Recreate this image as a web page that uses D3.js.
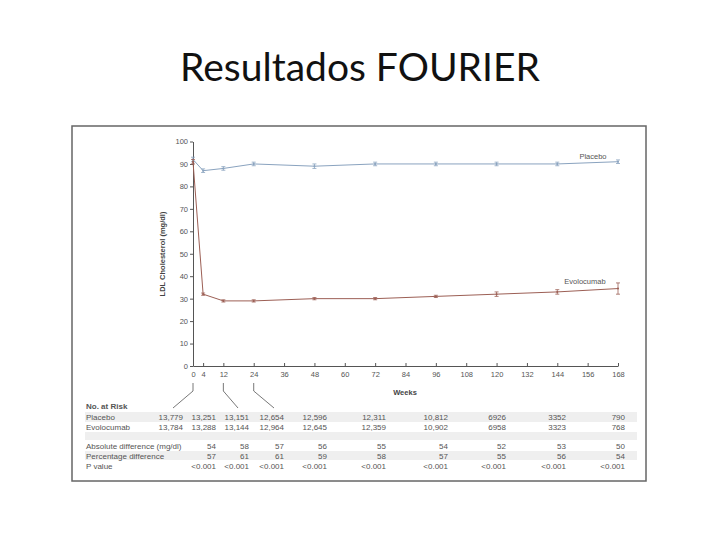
<!DOCTYPE html>
<html><head><meta charset="utf-8">
<script src="https://cdn.jsdelivr.net/npm/d3@7"></script>
<style>body{margin:0;background:#fff}</style>
</head><body>
<svg id="c" width="720" height="540"></svg>
<script>
const weeks = [0,4,12,24,48,72,96,120,144,168];
const placebo = [92,87,88,90,89,90,90,90,90,91];
const placeboErr = [1,0.8,0.8,0.8,1,0.8,0.8,0.8,0.8,0.8];
const evolocumab = [91,32,29,29,30,30,31,32,33,34.5];
const evolocumabErr = [1,0.5,0.5,0.5,0.5,0.5,0.5,1,1,2.5];
const xTicks = [0,4,12,24,36,48,60,72,84,96,108,120,132,144,156,168];
const yTicks = [0,10,20,30,40,50,60,70,80,90,100];
const riskPlacebo = ["13,779","13,251","13,151","12,654","12,596","12,311","10,812","6926","3352","790"];
const riskEvolocumab = ["13,784","13,288","13,144","12,964","12,645","12,359","10,902","6958","3323","768"];
const absDiff = ["","54","58","57","56","55","54","52","53","50"];
const pctDiff = ["","57","61","61","59","58","57","55","56","54"];
const pValue = ["","<0.001","<0.001","<0.001","<0.001","<0.001","<0.001","<0.001","<0.001","<0.001"];

const svg = d3.select("#c");
const F = "'Liberation Sans', Arial, sans-serif";

svg.append("text").attr("x",360).attr("y",81).attr("text-anchor","middle")
  .attr("font-family","Lato, 'Open Sans', sans-serif").attr("font-size",39).attr("fill","#111")
  .text("Resultados FOURIER");

svg.append("rect").attr("x",72).attr("y",126).attr("width",574).attr("height",355)
  .attr("fill","none").attr("stroke","#666").attr("stroke-width",1.5);

const x = d3.scaleLinear().domain([0,168]).range([193,618]);
const y = d3.scaleLinear().domain([0,100]).range([366,141.5]);

const gx = svg.append("g").attr("transform","translate(0,366)")
  .call(d3.axisBottom(x).tickValues(xTicks).tickSize(-3).tickSizeOuter(0).tickPadding(6));
const gy = svg.append("g").attr("transform","translate(193,0)")
  .call(d3.axisLeft(y).tickValues(yTicks).tickSize(3).tickSizeOuter(0).tickPadding(2));
[gx,gy].forEach(g=>{
  g.select(".domain").attr("stroke","#555");
  g.selectAll(".tick line").attr("stroke","#555");
  g.selectAll("text").attr("font-family",F).attr("font-size",7.5).attr("fill","#555");
});

svg.append("text").attr("transform","translate(165,254) rotate(-90)").attr("text-anchor","middle")
  .attr("font-family",F).attr("font-size",7.5).attr("font-weight","bold").attr("fill","#444")
  .text("LDL Cholesterol (mg/dl)");
svg.append("text").attr("x",405).attr("y",395).attr("text-anchor","middle")
  .attr("font-family",F).attr("font-size",7.5).attr("font-weight","bold").attr("fill","#444")
  .text("Weeks");

function series(vals, errs, color){
  const pts = weeks.map((w,i)=>({w,v:vals[i],e:errs[i]}));
  const line = d3.line().x(d=>x(d.w)).y(d=>y(d.v));
  svg.append("path").datum(pts).attr("d",line).attr("fill","none")
    .attr("stroke",color).attr("stroke-width",1);
  const g = svg.append("g").attr("stroke",color).attr("stroke-width",0.8);
  pts.forEach(d=>{
    g.append("line").attr("x1",x(d.w)).attr("x2",x(d.w)).attr("y1",y(d.v+d.e)).attr("y2",y(d.v-d.e));
    g.append("line").attr("x1",x(d.w)-2).attr("x2",x(d.w)+2).attr("y1",y(d.v+d.e)).attr("y2",y(d.v+d.e));
    g.append("line").attr("x1",x(d.w)-2).attr("x2",x(d.w)+2).attr("y1",y(d.v-d.e)).attr("y2",y(d.v-d.e));
    g.append("circle").attr("cx",x(d.w)).attr("cy",y(d.v)).attr("r",1).attr("fill",color).attr("stroke","none");
  });
}
series(placebo, placeboErr, "#8aa3bf");
series(evolocumab, evolocumabErr, "#9c5f55");

svg.append("text").attr("x",593).attr("y",159).attr("text-anchor","middle")
  .attr("font-family",F).attr("font-size",7.5).attr("fill","#555").text("Placebo");
svg.append("text").attr("x",585).attr("y",284).attr("text-anchor","middle")
  .attr("font-family",F).attr("font-size",7.5).attr("fill","#555").text("Evolocumab");

// connectors from ticks to table columns
const conn = [[0,173],[12,238],[24,274]];
conn.forEach(([w,tx])=>{
  svg.append("path").attr("d",`M${x(w)},383 L${x(w)},391 L${tx},408`)
    .attr("fill","none").attr("stroke","#555").attr("stroke-width",0.8);
});

// table
const colRight = [183,216,249,284,327,386,448,506,566,625];
const bands = [[412,10],[432,8],[451,9]];
bands.forEach(([by,bh])=>svg.append("rect").attr("x",85).attr("y",by).attr("width",552).attr("height",bh).attr("fill","#efefef"));

const rows = [
  {label:"Placebo", vals:riskPlacebo, y:420},
  {label:"Evolocumab", vals:riskEvolocumab, y:430},
  {label:"Absolute difference (mg/dl)", vals:absDiff, y:449},
  {label:"Percentage difference", vals:pctDiff, y:459},
  {label:"P value", vals:pValue, y:469}
];
svg.append("text").attr("x",86).attr("y",409).attr("font-family",F).attr("font-size",8)
  .attr("font-weight","bold").attr("fill","#555").text("No. at Risk");
rows.forEach(r=>{
  svg.append("text").attr("x",86).attr("y",r.y).attr("font-family",F).attr("font-size",8)
    .attr("fill","#555").text(r.label);
  svg.selectAll(null).data(r.vals).enter().append("text")
    .attr("x",(d,i)=>colRight[i]).attr("y",r.y).attr("text-anchor","end")
    .attr("font-family",F).attr("font-size",8).attr("fill","#555").text(d=>d);
});
</script>
</body></html>
